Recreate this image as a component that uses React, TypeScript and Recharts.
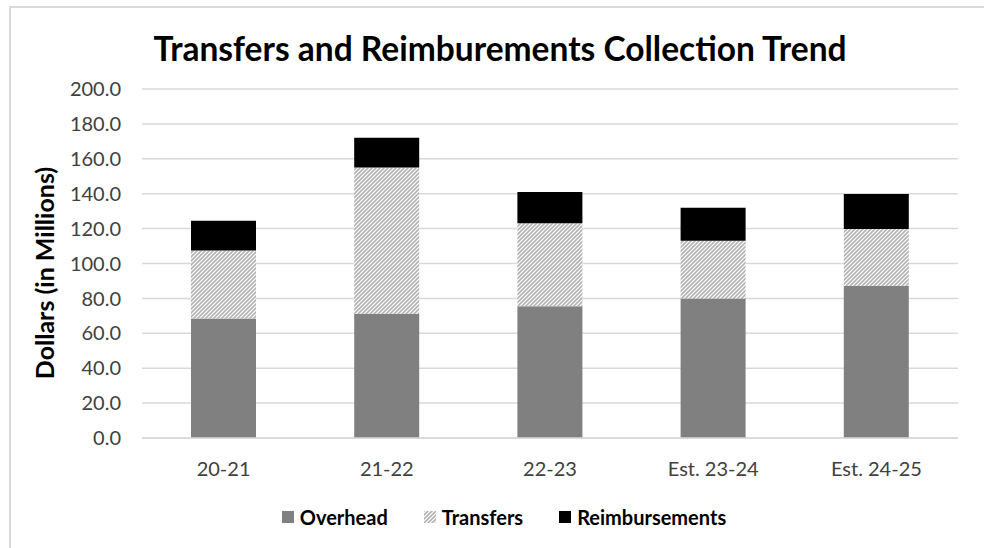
import { BarChart, Bar, XAxis, YAxis, CartesianGrid } from 'recharts';

const years = ['20-21', '21-22', '22-23', 'Est. 23-24', 'Est. 24-25'];
const overhead = [68.5, 71.0, 75.5, 80.0, 87.3];
const transfers = [39.0, 84.0, 47.5, 33.0, 32.5];
const reimbursements = [17.0, 17.0, 18.0, 19.0, 20.0];
const yTicks = [0, 20, 40, 60, 80, 100, 120, 140, 160, 180, 200];

const seriesNames = ['Overhead', 'Transfers', 'Reimbursements'];
const seriesFills = ['#808080', 'url(#hatch)', '#000000'];

const data = years.map((year, i) => ({
  year,
  overhead: overhead[i],
  transfers: transfers[i],
  reimbursements: reimbursements[i],
}));

const FONT = 'Lato, "Open Sans", sans-serif';

function ChartLegend() {
  return (
    <div
      style={{
        position: 'absolute',
        left: 0,
        top: 505,
        width: 1008,
        display: 'flex',
        justifyContent: 'center',
        alignItems: 'center',
        fontFamily: FONT,
        fontWeight: 700,
        fontSize: 20,
        color: '#000',
      }}
    >
      {seriesNames.map((name, i) => (
        <div key={name} style={{ display: 'flex', alignItems: 'center', margin: '0 18px' }}>
          <svg width={12} height={12} style={{ marginRight: 6 }}>
            <rect width={12} height={12} fill={seriesFills[i]} />
          </svg>
          <span>{name}</span>
        </div>
      ))}
    </div>
  );
}

export default function App() {
  return (
    <div style={{ position: 'absolute', left: 0, top: 0, width: 984, height: 548, background: '#fff', overflow: 'hidden' }}>
      <div style={{ position: 'absolute', left: 9, top: 6, width: 1000, height: 600, borderTop: '2px solid #d9d9d9', borderLeft: '2px solid #d9d9d9' }} />
      <BarChart
        width={984}
        height={548}
        data={data}
        margin={{ top: 89, right: 26, bottom: 80, left: 0 }}
        style={{ position: 'absolute', left: 0, top: 0 }}
      >
        <defs>
          <pattern id="hatch" width={4} height={4} patternUnits="userSpaceOnUse">
            <rect width={4} height={4} fill="#fff" />
            <path d="M-1,1 L1,-1 M0,4 L4,0 M3,5 L5,3" stroke="#b3b3b3" strokeWidth={1.6} />
          </pattern>
        </defs>
        <CartesianGrid vertical={false} stroke="#d9d9d9" strokeWidth={1.5} />
        <XAxis
          dataKey="year"
          height={30}
          axisLine={{ stroke: '#d9d9d9', strokeWidth: 1.5 }}
          tickLine={false}
          tickSize={0}
          tickMargin={24}
          tick={{ fill: '#404040', fontSize: 20, fontFamily: FONT }}
        />
        <YAxis
          width={142}
          domain={[0, 200]}
          ticks={yTicks}
          interval={0}
          axisLine={false}
          tickLine={false}
          tickSize={0}
          tickMargin={21}
          tickFormatter={(v: number) => v.toFixed(1)}
          tick={{ fill: '#404040', fontSize: 20, fontFamily: FONT }}
        />
        <Bar dataKey="overhead" name={seriesNames[0]} stackId="a" fill={seriesFills[0]} barSize={65} isAnimationActive={false} />
        <Bar dataKey="transfers" name={seriesNames[1]} stackId="a" fill={seriesFills[1]} barSize={65} isAnimationActive={false} />
        <Bar dataKey="reimbursements" name={seriesNames[2]} stackId="a" fill={seriesFills[2]} barSize={65} isAnimationActive={false} />
      </BarChart>
      <div style={{ position: 'absolute', left: 0, top: 28, width: 1000, textAlign: 'center', fontFamily: FONT, fontWeight: 700, fontSize: 33.5, color: '#000' }}>
        Transfers and Reimburements Collection Trend
      </div>
      <div
        style={{
          position: 'absolute',
          left: 44,
          top: 273,
          transform: 'translate(-50%, -50%) rotate(-90deg)',
          whiteSpace: 'nowrap',
          fontFamily: FONT,
          fontWeight: 700,
          fontSize: 25,
          color: '#000',
        }}
      >
        Dollars (in Millions)
      </div>
      <ChartLegend />
    </div>
  );
}
